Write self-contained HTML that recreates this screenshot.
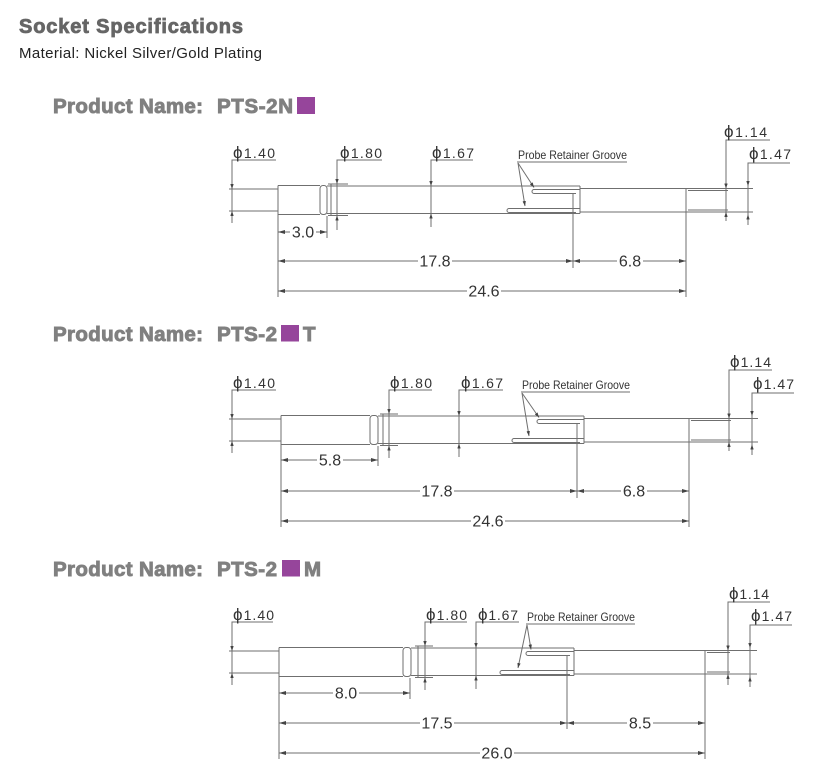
<!DOCTYPE html>
<html><head><meta charset="utf-8"><style>
html,body{margin:0;padding:0;background:#fff;}
svg{display:block;}
text{font-family:"Liberation Sans",Arial,sans-serif;}
.hb{font-weight:700;}
.p{font-size:17px;}
</style></head><body>
<svg width="818" height="773" viewBox="0 0 818 773" xmlns="http://www.w3.org/2000/svg">
<defs>
<marker id="a" viewBox="0 0 7 4" refX="7" refY="2" markerWidth="7" markerHeight="4" markerUnits="userSpaceOnUse" orient="auto-start-reverse"><path d="M0,0 L7,2 L0,4 z" fill="#444"/></marker>
<marker id="s" viewBox="0 0 5 3.4" refX="5" refY="1.7" markerWidth="5" markerHeight="3.4" markerUnits="userSpaceOnUse" orient="auto"><path d="M0,0 L5,1.7 L0,3.4 z" fill="#444"/></marker>
</defs>

<!-- Headings -->
<text class="hb" x="19" y="33" font-size="20" font-weight="bold" fill="#666" stroke="#666" stroke-width="0.8" textLength="224">Socket Specifications</text>
<text x="19" y="58" font-size="15" fill="#222" textLength="243">Material: Nickel Silver/Gold Plating</text>

<g class="hb" font-size="20.5" font-weight="bold" fill="#808080" stroke="#808080" stroke-width="0.9">
<text x="53" y="113" textLength="150">Product Name:</text>
<text x="217" y="113" textLength="76">PTS-2N</text>
<text x="53" y="341" textLength="150">Product Name:</text>
<text x="217" y="341" textLength="60">PTS-2</text>
<text x="303" y="341" textLength="14">T</text>
<text x="53" y="576" textLength="150">Product Name:</text>
<text x="217" y="576" textLength="60">PTS-2</text>
<text x="304" y="576" textLength="18">M</text>
</g>
<rect x="297" y="97" width="18" height="17" fill="#96459b"/>
<rect x="281" y="325" width="18" height="16.5" fill="#96459b"/>
<rect x="282" y="560" width="18" height="16.5" fill="#96459b"/>

<!-- ================= DIAGRAM 1 ================= -->
<g stroke="#6f6f6f" stroke-width="1" fill="none">
  <line x1="229" y1="189" x2="278" y2="189"/>
  <line x1="229" y1="211" x2="278" y2="211"/>
  <polyline points="276,160 232,160 232,223"/>
  <line x1="232" y1="182" x2="232" y2="189" marker-end="url(#s)"/>
  <line x1="232" y1="218" x2="232" y2="211" marker-end="url(#s)"/>
  <line x1="278" y1="185.5" x2="278" y2="297"/>
  <line x1="278" y1="185.5" x2="320" y2="185.5"/>
  <line x1="278" y1="214.5" x2="320" y2="214.5"/>
  <rect x="320" y="185.5" width="7" height="29" rx="3"/>
  <line x1="327" y1="186" x2="580" y2="186"/>
  <line x1="327" y1="213.5" x2="580" y2="213.5"/>
  <line x1="328" y1="184" x2="348" y2="184"/>
  <line x1="328" y1="215.5" x2="348" y2="215.5"/>
  <line x1="331" y1="184" x2="331" y2="215.5"/>
  <line x1="327" y1="216" x2="327" y2="238"/>
  <polyline points="382,160 337,160 337,230"/>
  <line x1="337" y1="178" x2="337" y2="184" marker-end="url(#s)"/>
  <line x1="337" y1="222" x2="337" y2="215.5" marker-end="url(#s)"/>
  <polyline points="473,160 431,160 431,227"/>
  <line x1="431" y1="180" x2="431" y2="186" marker-end="url(#s)"/>
  <line x1="431" y1="220" x2="431" y2="213.5" marker-end="url(#s)"/>
  <path d="M580,189.5 H534 A2,2 0 0 0 534,193.5 H576"/>
  <path d="M580,208.5 H509 A2,2 0 0 0 509,212.5 H576"/>
  <line x1="573" y1="193.5" x2="573" y2="268"/>
  <line x1="580" y1="186" x2="580" y2="213.5"/>
  <line x1="580" y1="188.5" x2="753" y2="188.5"/>
  <line x1="580" y1="212" x2="753" y2="212"/>
  <line x1="686" y1="188.5" x2="686" y2="297"/>
  <line x1="688" y1="190.5" x2="728" y2="190.5"/>
  <line x1="688" y1="210" x2="728" y2="210"/>
  <polyline points="770,140 726,140 726,221"/>
  <line x1="726" y1="183" x2="726" y2="188.5" marker-end="url(#s)"/>
  <line x1="726" y1="218" x2="726" y2="212" marker-end="url(#s)"/>
  <polyline points="790,163 748,163 748,225"/>
  <line x1="748" y1="180" x2="748" y2="186" marker-end="url(#s)"/>
  <line x1="748" y1="221" x2="748" y2="214.5" marker-end="url(#s)"/>
  <line x1="517" y1="162" x2="627" y2="162"/>
  <line x1="518" y1="163" x2="534" y2="187.5" marker-end="url(#s)"/>
  <line x1="518" y1="163" x2="525" y2="206" marker-end="url(#s)"/>
  <line x1="278" y1="232" x2="327" y2="232" marker-start="url(#a)" marker-end="url(#a)"/>
  <line x1="278" y1="261" x2="573" y2="261" marker-start="url(#a)" marker-end="url(#a)"/>
  <line x1="573" y1="261" x2="686" y2="261" marker-start="url(#a)" marker-end="url(#a)"/>
  <line x1="278" y1="291" x2="686" y2="291" marker-start="url(#a)" marker-end="url(#a)"/>
</g>
<g fill="#fff">
  <rect x="290" y="225" width="26" height="14"/>
  <rect x="418" y="254" width="34" height="14"/>
  <rect x="617" y="254" width="26" height="14"/>
  <rect x="467" y="284" width="34" height="14"/>
</g>
<g fill="#333" font-size="16" text-anchor="middle">
  <text x="303" y="237.6">3.0</text>
  <text x="435" y="266.6">17.8</text>
  <text x="630" y="266.6">6.8</text>
  <text x="484" y="296.6">24.6</text>
</g>
<g fill="#333" font-size="14">
  <text x="233" y="158" textLength="42"><tspan class="p">ϕ</tspan>1.40</text>
  <text x="340" y="158" textLength="42"><tspan class="p">ϕ</tspan>1.80</text>
  <text x="432" y="158" textLength="42"><tspan class="p">ϕ</tspan>1.67</text>
  <text x="724" y="137" textLength="43"><tspan class="p">ϕ</tspan>1.14</text>
  <text x="749" y="159" textLength="42"><tspan class="p">ϕ</tspan>1.47</text>
</g>
<text x="518" y="159" font-size="12" fill="#333" textLength="109" lengthAdjust="spacingAndGlyphs">Probe Retainer Groove</text>

<!-- ================= DIAGRAM 2 ================= -->
<g stroke="#6f6f6f" stroke-width="1" fill="none">
  <line x1="229" y1="419" x2="281" y2="419"/>
  <line x1="229" y1="441" x2="281" y2="441"/>
  <polyline points="276,390 232,390 232,453"/>
  <line x1="232" y1="412" x2="232" y2="419" marker-end="url(#s)"/>
  <line x1="232" y1="448" x2="232" y2="441" marker-end="url(#s)"/>
  <line x1="281" y1="415.5" x2="281" y2="527"/>
  <line x1="281" y1="415.5" x2="370" y2="415.5"/>
  <line x1="281" y1="444.5" x2="370" y2="444.5"/>
  <rect x="370" y="415.5" width="8" height="29" rx="3"/>
  <line x1="378" y1="416" x2="584" y2="416"/>
  <line x1="378" y1="443.5" x2="584" y2="443.5"/>
  <line x1="380" y1="414" x2="398" y2="414"/>
  <line x1="380" y1="445.5" x2="398" y2="445.5"/>
  <line x1="383" y1="414" x2="383" y2="445.5"/>
  <line x1="378" y1="446" x2="378" y2="466"/>
  <polyline points="432,390 389,390 389,458"/>
  <line x1="389" y1="408" x2="389" y2="414" marker-end="url(#s)"/>
  <line x1="389" y1="452" x2="389" y2="445.5" marker-end="url(#s)"/>
  <polyline points="503,390 459,390 459,457"/>
  <line x1="459" y1="410" x2="459" y2="416" marker-end="url(#s)"/>
  <line x1="459" y1="450" x2="459" y2="443.5" marker-end="url(#s)"/>
  <path d="M584,419.5 H539 A2,2 0 0 0 539,423.5 H580"/>
  <path d="M584,438.5 H514 A2,2 0 0 0 514,442.5 H580"/>
  <line x1="577" y1="423.5" x2="577" y2="498"/>
  <line x1="584" y1="416" x2="584" y2="443.5"/>
  <line x1="584" y1="418.5" x2="758" y2="418.5"/>
  <line x1="584" y1="442" x2="758" y2="442"/>
  <line x1="689" y1="418.5" x2="689" y2="527"/>
  <line x1="691" y1="420.5" x2="731" y2="420.5"/>
  <line x1="691" y1="440" x2="731" y2="440"/>
  <polyline points="772,370 729,370 729,451"/>
  <line x1="729" y1="413" x2="729" y2="418.5" marker-end="url(#s)"/>
  <line x1="729" y1="448" x2="729" y2="442" marker-end="url(#s)"/>
  <polyline points="794,393 752,393 752,455"/>
  <line x1="752" y1="410" x2="752" y2="416" marker-end="url(#s)"/>
  <line x1="752" y1="451" x2="752" y2="444.5" marker-end="url(#s)"/>
  <line x1="521" y1="392" x2="630" y2="392"/>
  <line x1="522" y1="393" x2="539" y2="417.5" marker-end="url(#s)"/>
  <line x1="522" y1="393" x2="529" y2="436" marker-end="url(#s)"/>
  <line x1="281" y1="460" x2="378" y2="460" marker-start="url(#a)" marker-end="url(#a)"/>
  <line x1="281" y1="491" x2="577" y2="491" marker-start="url(#a)" marker-end="url(#a)"/>
  <line x1="577" y1="491" x2="689" y2="491" marker-start="url(#a)" marker-end="url(#a)"/>
  <line x1="281" y1="521" x2="689" y2="521" marker-start="url(#a)" marker-end="url(#a)"/>
</g>
<g fill="#fff">
  <rect x="317" y="453" width="26" height="14"/>
  <rect x="420" y="484" width="34" height="14"/>
  <rect x="621" y="484" width="26" height="14"/>
  <rect x="471" y="514" width="34" height="14"/>
</g>
<g fill="#333" font-size="16" text-anchor="middle">
  <text x="330" y="465.6">5.8</text>
  <text x="437" y="496.6">17.8</text>
  <text x="634" y="496.6">6.8</text>
  <text x="488" y="526.6">24.6</text>
</g>
<g fill="#333" font-size="14">
  <text x="233" y="388" textLength="42"><tspan class="p">ϕ</tspan>1.40</text>
  <text x="390" y="388" textLength="42"><tspan class="p">ϕ</tspan>1.80</text>
  <text x="461" y="388" textLength="42"><tspan class="p">ϕ</tspan>1.67</text>
  <text x="730" y="367" textLength="41"><tspan class="p">ϕ</tspan>1.14</text>
  <text x="753" y="389" textLength="41"><tspan class="p">ϕ</tspan>1.47</text>
</g>
<text x="522" y="389" font-size="12" fill="#333" textLength="108" lengthAdjust="spacingAndGlyphs">Probe Retainer Groove</text>

<!-- ================= DIAGRAM 3 ================= -->
<g stroke="#6f6f6f" stroke-width="1" fill="none">
  <line x1="229" y1="651" x2="279" y2="651"/>
  <line x1="229" y1="673" x2="279" y2="673"/>
  <polyline points="273,622 232,622 232,685"/>
  <line x1="232" y1="644" x2="232" y2="651" marker-end="url(#s)"/>
  <line x1="232" y1="680" x2="232" y2="673" marker-end="url(#s)"/>
  <line x1="279" y1="647.5" x2="279" y2="759"/>
  <line x1="279" y1="647.5" x2="403" y2="647.5"/>
  <line x1="279" y1="676.5" x2="403" y2="676.5"/>
  <rect x="403" y="647.5" width="8" height="29" rx="3"/>
  <line x1="411" y1="648" x2="574" y2="648"/>
  <line x1="411" y1="675.5" x2="574" y2="675.5"/>
  <line x1="415" y1="646" x2="433" y2="646"/>
  <line x1="415" y1="677.5" x2="433" y2="677.5"/>
  <line x1="418" y1="646" x2="418" y2="677.5"/>
  <line x1="410" y1="678" x2="410" y2="699"/>
  <polyline points="467,622 425,622 425,690"/>
  <line x1="425" y1="640" x2="425" y2="646" marker-end="url(#s)"/>
  <line x1="425" y1="684" x2="425" y2="677.5" marker-end="url(#s)"/>
  <polyline points="519,622 476,622 476,689"/>
  <line x1="476" y1="642" x2="476" y2="648" marker-end="url(#s)"/>
  <line x1="476" y1="682" x2="476" y2="675.5" marker-end="url(#s)"/>
  <path d="M574,651.5 H528 A2,2 0 0 0 528,655.5 H570"/>
  <path d="M574,670.5 H502 A2,2 0 0 0 502,674.5 H570"/>
  <line x1="567" y1="655.5" x2="567" y2="729"/>
  <line x1="574" y1="648" x2="574" y2="675.5"/>
  <line x1="574" y1="650.5" x2="757" y2="650.5"/>
  <line x1="574" y1="674" x2="757" y2="674"/>
  <line x1="705" y1="650.5" x2="705" y2="759"/>
  <line x1="707" y1="652.5" x2="730" y2="652.5"/>
  <line x1="707" y1="672" x2="730" y2="672"/>
  <polyline points="770,602 728,602 728,685"/>
  <line x1="728" y1="645" x2="728" y2="650.5" marker-end="url(#s)"/>
  <line x1="728" y1="680" x2="728" y2="674" marker-end="url(#s)"/>
  <polyline points="792,625 750,625 750,687"/>
  <line x1="750" y1="642" x2="750" y2="648" marker-end="url(#s)"/>
  <line x1="750" y1="683" x2="750" y2="676.5" marker-end="url(#s)"/>
  <line x1="526" y1="624" x2="635" y2="624"/>
  <line x1="527" y1="625" x2="531" y2="649.5" marker-end="url(#s)"/>
  <line x1="527" y1="625" x2="518" y2="668" marker-end="url(#s)"/>
  <line x1="279" y1="693" x2="410" y2="693" marker-start="url(#a)" marker-end="url(#a)"/>
  <line x1="279" y1="723" x2="567" y2="723" marker-start="url(#a)" marker-end="url(#a)"/>
  <line x1="567" y1="723" x2="705" y2="723" marker-start="url(#a)" marker-end="url(#a)"/>
  <line x1="279" y1="753" x2="705" y2="753" marker-start="url(#a)" marker-end="url(#a)"/>
</g>
<g fill="#fff">
  <rect x="333" y="686" width="26" height="14"/>
  <rect x="420" y="716" width="34" height="14"/>
  <rect x="627" y="716" width="26" height="14"/>
  <rect x="480" y="746" width="34" height="14"/>
</g>
<g fill="#333" font-size="16" text-anchor="middle">
  <text x="346" y="698.6">8.0</text>
  <text x="437" y="728.6">17.5</text>
  <text x="640" y="728.6">8.5</text>
  <text x="497" y="758.6">26.0</text>
</g>
<g fill="#333" font-size="14">
  <text x="233" y="620" textLength="41"><tspan class="p">ϕ</tspan>1.40</text>
  <text x="426" y="620" textLength="41"><tspan class="p">ϕ</tspan>1.80</text>
  <text x="478" y="620" textLength="40"><tspan class="p">ϕ</tspan>1.67</text>
  <text x="729" y="599" textLength="40"><tspan class="p">ϕ</tspan>1.14</text>
  <text x="751" y="621" textLength="41"><tspan class="p">ϕ</tspan>1.47</text>
</g>
<text x="527" y="621" font-size="12" fill="#333" textLength="108" lengthAdjust="spacingAndGlyphs">Probe Retainer Groove</text>
</svg>
</body></html>
